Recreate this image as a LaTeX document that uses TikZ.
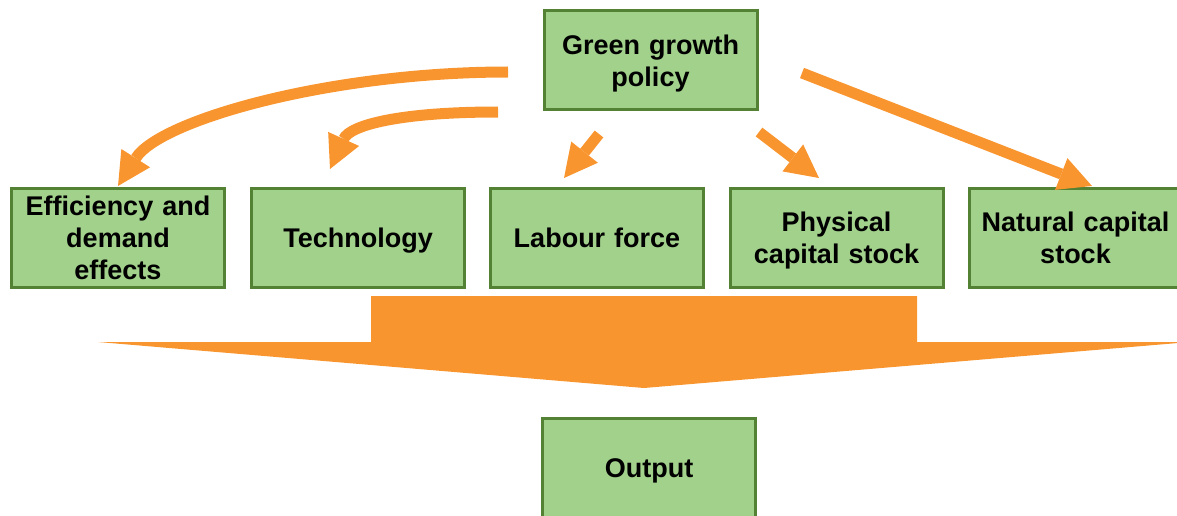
\documentclass[tikz,border=0pt]{standalone}
\usepackage{fontspec}
\setmainfont{Liberation Sans}
\usetikzlibrary{arrows.meta}
\definecolor{boxfill}{HTML}{A2D18C}
\definecolor{boxline}{HTML}{548235}
\definecolor{orng}{HTML}{F9952F}
\begin{document}
\begin{tikzpicture}[x=1pt,y=-1pt,
  gbox/.style={draw=boxline, fill=boxfill, line width=3pt, minimum width=213pt,
    minimum height=99pt, inner sep=0pt, align=center, text width=209pt,
    font=\fontsize{27}{32}\selectfont\bfseries,
    text height=19.3pt, text depth=0pt},
  two lines/.style={text depth=32pt},
  three lines/.style={text depth=64pt},
  oarrow/.style={draw=orng, line width=11pt,
    -{Triangle[length=33pt,width=34pt,line width=0pt]}}]
\useasboundingbox (0,0) rectangle (1177,516);
\clip (0,0) rectangle (1177,516);
% big down arrow
\fill[orng] (371,296) -- (917,296) -- (917,342) -- (1190,342) -- (644,388)
  -- (98,342) -- (371,342) -- cycle;
% boxes
\node[gbox,two lines]   (gg)   at (650.5,60.5) {Green growth\\policy};
\node[gbox,three lines] (eff)  at (118,238)    {Efficiency and\\demand\\effects};
\node[gbox]             (tech) at (358,238)    {Technology};
\node[gbox]             (lab)  at (597,238)    {Labour force};
\node[gbox,two lines]   (phys) at (836.5,238)  {Physical\\capital stock};
\node[gbox,two lines]   (nat)  at (1075.5,238) {Natural capital\\stock};
\node[gbox]             (out)  at (649,468)    {Output};
% arrow ends
\coordinate (t1) at (508,72);
\coordinate (h1) at (118,186);
\coordinate (t2) at (498,112);
\coordinate (h2) at (330,169);
\coordinate (t3) at (599,134);
\coordinate (h3) at (564,178);
\coordinate (t4) at (759,132);
\coordinate (h4) at (819,178);
\coordinate (t5) at (802,73);
\coordinate (h5) at (1092,186);
\draw[oarrow] (t1) .. controls (330,72) and (160,120) .. (h1);
\draw[oarrow] (t2) .. controls (400,112) and (350,125) .. (h2);
\draw[oarrow] (t3) -- (h3);
\draw[oarrow] (t4) -- (h4);
\draw[oarrow] (t5) -- (h5);
\end{tikzpicture}
\end{document}
